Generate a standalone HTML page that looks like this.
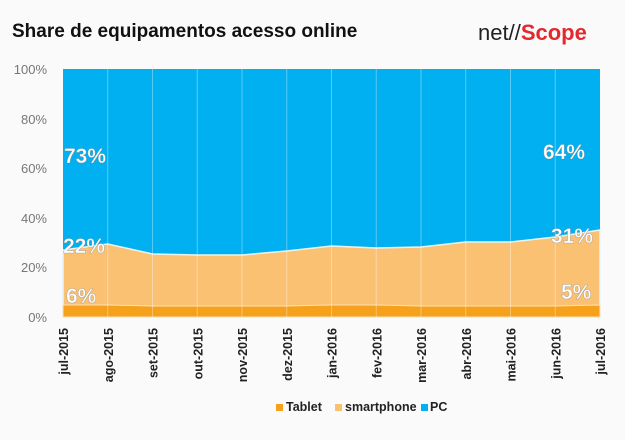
<!DOCTYPE html>
<html><head><meta charset="utf-8"><style>
body{margin:0;background:#fafafa;width:625px;height:435px;overflow:hidden;font-family:"Liberation Sans",sans-serif}
</style></head><body>
<svg width="625" height="435" xmlns="http://www.w3.org/2000/svg">
<rect width="625" height="435" fill="#fafafa"/>
<text x="12" y="37" font-size="19" font-weight="bold" fill="#111">Share de equipamentos acesso online</text>
<text x="478" y="40" font-size="22" fill="#222">net//<tspan fill="#e3292e" font-weight="bold">Scope</tspan></text>
<rect x="63" y="69" width="537" height="248" fill="#00b0f0"/>
<polygon fill="#fbc173" stroke="#e8f4fa" stroke-width="1.5" points="63,250 107.75,244 152.5,254 197.25,255 242,255 286.75,251 331.5,246 376.25,248 421,247 465.75,242 510.5,242 555.25,237 600,230 600,317 63,317"/>
<polygon fill="#f5a11c" stroke="#fde2b8" stroke-width="1" points="63,305 107.75,305 152.5,306 197.25,306 242,306 286.75,306 331.5,305 376.25,305 421,306 465.75,306 510.5,306 555.25,306 600,305 600,317 63,317"/>
<g stroke="#ffffff" stroke-opacity="0.35" stroke-width="1">
<line x1="107.75" y1="69" x2="107.75" y2="317"/><line x1="152.5" y1="69" x2="152.5" y2="317"/><line x1="197.25" y1="69" x2="197.25" y2="317"/><line x1="242" y1="69" x2="242" y2="317"/><line x1="286.75" y1="69" x2="286.75" y2="317"/><line x1="331.5" y1="69" x2="331.5" y2="317"/><line x1="376.25" y1="69" x2="376.25" y2="317"/><line x1="421" y1="69" x2="421" y2="317"/><line x1="465.75" y1="69" x2="465.75" y2="317"/><line x1="510.5" y1="69" x2="510.5" y2="317"/><line x1="555.25" y1="69" x2="555.25" y2="317"/>
</g>
<g font-size="13" fill="#777" text-anchor="end">
<text x="47" y="74">100%</text><text x="47" y="124">80%</text><text x="47" y="173">60%</text><text x="47" y="223">40%</text><text x="47" y="272">20%</text><text x="47" y="322">0%</text>
</g>
<g font-size="21" font-weight="bold" fill="#fff" stroke="#777" stroke-width="0.6" stroke-opacity="0.5">
<text x="64" y="163">73%</text><text x="63" y="253">22%</text><text x="66" y="303">6%</text>
<text x="543" y="159">64%</text><text x="551" y="243">31%</text><text x="561" y="299">5%</text>
</g>
<g font-size="12.5" font-weight="bold" fill="#222" text-anchor="end">
<text transform="translate(68,328) rotate(-90)">jul-2015</text>
<text transform="translate(112.75,328) rotate(-90)">ago-2015</text>
<text transform="translate(157.5,328) rotate(-90)">set-2015</text>
<text transform="translate(202.25,328) rotate(-90)">out-2015</text>
<text transform="translate(247,328) rotate(-90)">nov-2015</text>
<text transform="translate(291.75,328) rotate(-90)">dez-2015</text>
<text transform="translate(336.5,328) rotate(-90)">jan-2016</text>
<text transform="translate(381.25,328) rotate(-90)">fev-2016</text>
<text transform="translate(426,328) rotate(-90)">mar-2016</text>
<text transform="translate(470.75,328) rotate(-90)">abr-2016</text>
<text transform="translate(515.5,328) rotate(-90)">mai-2016</text>
<text transform="translate(560.25,328) rotate(-90)">jun-2016</text>
<text transform="translate(605,328) rotate(-90)">jul-2016</text>
</g>
<g font-size="12.5" font-weight="bold" fill="#222">
<rect x="276" y="404" width="7" height="7" fill="#f5a11c"/><text x="286" y="411">Tablet</text>
<rect x="335" y="404" width="7" height="7" fill="#fbc173"/><text x="345" y="411">smartphone</text>
<rect x="421" y="404" width="7" height="7" fill="#00b0f0"/><text x="430" y="411">PC</text>
</g>
</svg>
</body></html>
